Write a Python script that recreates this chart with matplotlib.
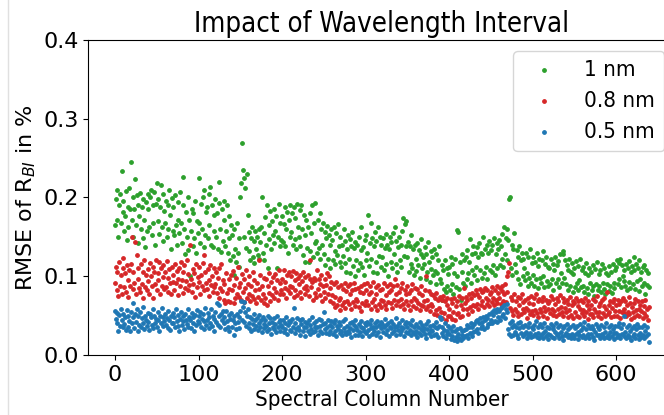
import numpy as np
import matplotlib.pyplot as plt
from matplotlib.lines import Line2D

# Step 1: RMSE values (in thousandths of a percent) per spectral column
rmse_1nm = [
    165, 198, 172, 210, 150, 190, 205, 168, 234, 182, 195, 158, 176, 208, 146, 188, 163, 212, 185, 245,
    172, 200, 150, 186, 223, 165, 203, 142, 190, 176, 206, 160, 188, 148, 198, 172, 137, 194, 158, 204,
    185, 163, 200, 210, 152, 190, 168, 207, 140, 192, 218, 170, 198, 154, 188, 216, 162, 205, 145, 183,
    168, 196, 150, 190, 160, 210, 178, 135, 199, 158, 188, 152, 203, 165, 140, 194, 172, 155, 207, 168,
    142, 190, 226, 160, 128, 182, 150, 200, 133, 172, 100, 158, 186, 138, 180, 148, 196, 130, 170, 155,
    225, 168, 142, 192, 160, 200, 137, 210, 152, 182, 188, 148, 204, 165, 213, 140, 190, 137, 178, 158,
    198, 150, 180, 135, 193, 220, 160, 131, 186, 145, 172, 196, 138, 158, 190, 130, 176, 148, 120, 165,
    152, 126, 102, 160, 135, 118, 168, 130, 112, 148, 200, 218, 269, 235, 225, 150, 212, 136, 230, 178,
    132, 156, 120, 148, 162, 125, 145, 117, 158, 134, 150, 127, 160, 122, 143, 163, 200, 130, 155, 120,
    175, 140, 190, 110, 165, 147, 183, 135, 170, 152, 142, 186, 158, 176, 110, 150, 192, 138, 168, 146,
    176, 143, 166, 188, 139, 160, 181, 130, 172, 150, 190, 156, 180, 140, 188, 147, 174, 134, 192, 162,
    150, 184, 138, 190, 160, 127, 178, 118, 152, 172, 136, 163, 118, 180, 132, 155, 190, 124, 167, 142,
    193, 145, 130, 172, 136, 180, 122, 160, 140, 167, 128, 156, 114, 148, 164, 122, 152, 110, 140, 160,
    146, 120, 162, 132, 115, 155, 127, 166, 138, 118, 150, 112, 140, 126, 160, 117, 145, 105, 135, 153,
    122, 147, 104, 138, 156, 113, 136, 100, 144, 120, 140, 108, 150, 117, 133, 162, 112, 137, 102, 146,
    120, 152, 130, 178, 113, 142, 168, 122, 148, 106, 138, 156, 118, 145, 104, 163, 126, 150, 112, 140,
    124, 148, 108, 136, 154, 115, 140, 100, 134, 150, 118, 143, 110, 155, 128, 162, 116, 145, 106, 137,
    150, 120, 140, 112, 158, 174, 126, 166, 138, 170, 124, 144, 105, 138, 116, 152, 110, 134, 102, 140,
    122, 107, 142, 114, 133, 98, 128, 147, 110, 124, 115, 137, 97, 128, 106, 143, 118, 93, 132, 109,
    124, 102, 134, 107, 90, 128, 104, 120, 138, 97, 92, 114, 70, 108, 84, 120, 80, 110, 88, 103,
    112, 82, 124, 90, 116, 78, 104, 122, 86, 159, 100, 156, 84, 118, 70, 106, 128, 92, 120, 88,
    124, 96, 133, 104, 118, 147, 92, 128, 108, 138, 102, 130, 112, 137, 95, 124, 142, 108, 130, 98,
    128, 150, 104, 135, 112, 140, 97, 130, 145, 108, 133, 106, 140, 114, 148, 102, 128, 142, 110, 135,
    146, 114, 138, 122, 154, 112, 162, 128, 148, 160, 120, 146, 198, 200, 110, 140, 102, 134, 155, 116,
    106, 133, 97, 124, 138, 90, 120, 130, 100, 122, 110, 95, 130, 104, 88, 125, 98, 134, 92, 117,
    102, 125, 88, 118, 96, 130, 85, 113, 122, 98, 92, 120, 100, 132, 86, 115, 124, 94, 112, 88,
    110, 90, 122, 97, 116, 82, 108, 125, 92, 114, 96, 119, 86, 128, 104, 92, 132, 128, 98, 120,
    90, 114, 82, 108, 122, 88, 106, 117, 80, 103, 110, 86, 119, 92, 82, 113, 95, 122, 86, 108,
    88, 112, 80, 104, 117, 85, 102, 78, 110, 92, 106, 83, 114, 88, 75, 109, 90, 118, 82, 103,
    87, 108, 80, 116, 92, 84, 111, 78, 104, 90, 102, 81, 113, 88, 106, 79, 116, 92, 85, 108,
    112, 120, 90, 117, 96, 122, 86, 114, 100, 94, 108, 88, 116, 82, 111, 93, 119, 85, 105, 113,
    90, 125, 108, 84, 116, 94, 110, 81, 120, 96, 106, 87, 112, 91, 114, 78, 108, 89, 104, 86,
]

rmse_08nm = [
    92, 112, 82, 106, 75, 118, 87, 102, 78, 110, 123, 86, 104, 80, 114, 95, 74, 108, 88, 116,
    150, 84, 105, 91, 143, 78, 127, 96, 111, 85, 80, 115, 90, 106, 72, 120, 86, 101, 82, 109,
    94, 77, 117, 100, 87, 112, 73, 106, 90, 120, 83, 104, 95, 118, 78, 110, 88, 99, 114, 84,
    105, 86, 119, 80, 98, 109, 91, 77, 112, 93, 101, 82, 116, 92, 107, 76, 97, 111, 87, 118,
    95, 79, 106, 114, 85, 94, 120, 83, 103, 89, 140, 97, 80, 109, 90, 104, 74, 115, 86, 99,
    93, 112, 78, 102, 88, 117, 127, 82, 106, 91, 84, 109, 95, 75, 114, 89, 100, 80, 111, 86,
    90, 105, 79, 98, 73, 110, 85, 116, 81, 95, 70, 90, 66, 104, 79, 68, 96, 84, 67, 101,
    82, 107, 66, 89, 72, 98, 78, 112, 86, 74, 92, 70, 103, 80, 67, 97, 85, 108, 73, 90,
    78, 100, 68, 88, 75, 105, 71, 95, 82, 66, 91, 74, 120, 84, 101, 70, 88, 78, 98, 66,
    73, 96, 64, 87, 79, 104, 68, 93, 76, 99, 85, 72, 103, 80, 95, 70, 108, 77, 91, 83,
    97, 78, 108, 85, 93, 72, 102, 82, 105, 88, 79, 100, 86, 107, 74, 95, 83, 104, 76, 98,
    90, 80, 101, 73, 94, 106, 85, 77, 99, 88, 82, 102, 75, 96, 120, 86, 93, 70, 98, 79,
    95, 74, 108, 84, 97, 76, 90, 102, 69, 87, 80, 96, 72, 89, 104, 77, 100, 85, 68, 93,
    76, 66, 90, 61, 74, 93, 64, 86, 70, 57, 73, 89, 63, 84, 67, 92, 60, 81, 69, 87,
    65, 78, 90, 58, 82, 67, 91, 62, 84, 71, 68, 85, 61, 80, 56, 88, 66, 79, 90, 63,
    83, 69, 91, 63, 77, 87, 59, 80, 67, 93, 71, 62, 86, 78, 57, 89, 65, 82, 70, 61,
    84, 68, 92, 64, 76, 58, 88, 67, 80, 90, 66, 82, 60, 87, 70, 96, 63, 78, 89, 68,
    80, 62, 85, 71, 91, 65, 58, 83, 68, 77, 87, 64, 79, 57, 82, 69, 90, 62, 73, 85,
    70, 60, 84, 66, 79, 57, 88, 64, 76, 62, 68, 83, 59, 100, 70, 62, 81, 56, 77, 65,
    62, 76, 52, 72, 57, 79, 51, 70, 60, 74, 55, 70, 47, 75, 53, 68, 45, 64, 72, 50,
    58, 50, 71, 46, 66, 54, 73, 45, 62, 52, 68, 53, 75, 48, 64, 72, 50, 59, 85, 66,
    74, 58, 70, 52, 77, 61, 73, 56, 79, 64, 76, 62, 82, 65, 78, 59, 74, 84, 64, 80,
    68, 81, 61, 85, 72, 65, 82, 70, 62, 78, 80, 67, 86, 73, 63, 83, 70, 88, 66, 79,
    72, 85, 65, 81, 88, 69, 78, 90, 67, 100, 80, 105, 117, 60, 74, 56, 70, 51, 77, 59,
    69, 54, 74, 50, 64, 72, 52, 77, 58, 67, 54, 70, 60, 47, 73, 57, 66, 52, 75, 56,
    65, 51, 72, 57, 77, 53, 68, 48, 71, 59, 55, 69, 50, 74, 61, 56, 70, 47, 66, 58,
    68, 53, 75, 59, 51, 71, 56, 65, 49, 73, 58, 69, 52, 76, 61, 54, 72, 50, 67, 60,
    54, 70, 48, 65, 57, 74, 51, 63, 69, 47, 66, 55, 72, 50, 62, 68, 48, 58, 70, 53,
    57, 67, 49, 73, 54, 64, 46, 69, 59, 52, 63, 52, 71, 48, 58, 68, 54, 75, 50, 62,
    55, 66, 47, 70, 53, 62, 72, 49, 58, 80, 52, 64, 55, 69, 48, 60, 67, 50, 71, 56,
    63, 50, 70, 56, 65, 47, 68, 54, 73, 53, 58, 69, 49, 64, 55, 74, 52, 66, 46, 61,
    54, 66, 48, 71, 57, 51, 69, 59, 50, 64, 56, 68, 47, 62, 53, 70, 49, 58, 45, 61,
]

rmse_05nm = [
    56, 46, 53, 40, 30, 51, 37, 59, 44, 35, 52, 39, 48, 32, 57, 36, 50, 43, 30, 54,
    40, 48, 66, 34, 52, 42, 58, 31, 49, 38, 55, 35, 47, 41, 61, 33, 50, 44, 37, 53,
    42, 32, 52, 48, 38, 58, 34, 49, 40, 46, 36, 54, 44, 30, 50, 41, 60, 37, 48, 43,
    52, 38, 47, 34, 56, 44, 32, 49, 40, 53, 41, 48, 35, 58, 43, 37, 51, 31, 46, 55,
    38, 50, 43, 33, 52, 45, 39, 59, 35, 48, 44, 34, 53, 41, 48, 30, 51, 38, 57, 43,
    49, 40, 55, 35, 46, 52, 33, 43, 60, 38, 45, 53, 34, 48, 41, 58, 37, 50, 31, 46,
    54, 42, 66, 38, 49, 64, 35, 52, 44, 56, 40, 48, 33, 56, 43, 36, 51, 30, 46, 53,
    36, 45, 26, 49, 40, 33, 52, 42, 34, 48, 56, 68, 45, 61, 67, 42, 54, 37, 50, 59,
    41, 34, 48, 31, 46, 39, 52, 33, 44, 37, 47, 32, 41, 51, 35, 44, 29, 48, 39, 34,
    45, 37, 31, 50, 40, 33, 47, 27, 42, 36, 33, 47, 39, 29, 49, 35, 42, 31, 45, 38,
    36, 45, 29, 41, 33, 48, 27, 38, 43, 32, 42, 30, 46, 35, 60, 28, 40, 33, 47, 36,
    32, 44, 26, 39, 46, 30, 36, 42, 24, 35, 41, 31, 45, 27, 38, 33, 48, 29, 40, 35,
    30, 43, 35, 25, 46, 37, 31, 44, 28, 39, 55, 33, 41, 28, 36, 45, 27, 38, 31, 43,
    35, 27, 40, 30, 44, 24, 37, 33, 42, 28, 38, 31, 25, 43, 34, 29, 46, 27, 37, 31,
    28, 40, 34, 23, 42, 32, 38, 26, 44, 35, 32, 25, 39, 29, 36, 43, 24, 34, 30, 41,
    38, 28, 42, 32, 24, 39, 34, 44, 27, 36, 31, 40, 26, 36, 43, 29, 38, 23, 34, 42,
    39, 29, 35, 46, 27, 38, 32, 41, 24, 36, 34, 43, 28, 39, 31, 36, 47, 26, 37, 32,
    40, 27, 36, 30, 44, 34, 24, 39, 29, 42, 36, 28, 40, 32, 25, 38, 45, 29, 35, 27,
    31, 39, 23, 36, 28, 42, 33, 25, 38, 30, 34, 27, 39, 22, 33, 43, 28, 37, 24, 32,
    30, 38, 25, 35, 42, 27, 34, 23, 37, 48, 46, 28, 36, 24, 32, 40, 22, 31, 27, 37,
    27, 34, 20, 31, 24, 37, 19, 30, 23, 33, 18, 27, 22, 34, 19, 31, 25, 21, 32, 24,
    33, 25, 38, 22, 35, 28, 40, 24, 36, 29, 39, 30, 43, 33, 45, 28, 41, 47, 34, 42,
    37, 48, 33, 45, 50, 35, 47, 39, 52, 41, 44, 54, 40, 51, 57, 43, 55, 42, 59, 48,
    56, 45, 60, 49, 61, 52, 63, 47, 58, 65, 54, 33, 27, 40, 24, 35, 43, 26, 38, 29,
    36, 25, 40, 22, 34, 42, 28, 37, 24, 35, 27, 38, 29, 21, 36, 25, 41, 28, 23, 35,
    33, 24, 38, 27, 43, 23, 35, 28, 21, 39, 26, 36, 28, 22, 40, 30, 24, 35, 27, 20,
    34, 25, 39, 23, 33, 37, 21, 29, 41, 25, 35, 27, 22, 38, 29, 24, 34, 19, 37, 26,
    28, 39, 23, 33, 25, 36, 21, 27, 38, 24, 22, 34, 27, 37, 20, 29, 25, 39, 32, 23,
    35, 26, 42, 22, 33, 24, 38, 27, 21, 34, 27, 37, 23, 33, 19, 29, 39, 25, 35, 26,
    33, 22, 38, 27, 24, 36, 21, 29, 41, 23, 26, 35, 21, 29, 38, 24, 33, 20, 28, 37,
    28, 23, 37, 26, 40, 22, 34, 27, 39, 24, 50, 29, 21, 36, 25, 38, 23, 30, 19, 34,
    24, 37, 27, 22, 33, 39, 26, 20, 36, 28, 23, 35, 26, 38, 21, 31, 24, 36, 27, 17,
]

series_labels = ['1 nm', '0.8 nm', '0.5 nm']
series_colors = ['tab:green', 'tab:red', 'tab:blue']

columns = np.arange(len(rmse_1nm))

# Step 2: Plot
plt.rcParams['font.size'] = 16
fig = plt.figure(figsize=(6.64, 4.15), dpi=100)
ax = fig.add_axes([0.133, 0.1446, 0.884, 0.759])

for vals, lab, col in zip([rmse_1nm, rmse_08nm, rmse_05nm], series_labels, series_colors):
    ax.scatter(columns, np.array(vals) / 1000, s=6, color=col, label=lab)

ax.set_ylim(0, 0.4)
ax.set_yticks([0.0, 0.1, 0.2, 0.3, 0.4])
ax.set_title('Impact of Wavelength Interval', fontsize=19.8, fontstretch='condensed')
ax.set_xlabel('Spectral Column Number', fontstretch='condensed')
ax.set_ylabel('RMSE of R$_{BI}$ in %')
ax.legend(loc='upper right', prop={'size': 16, 'stretch': 'condensed'})

# faint notebook border on the left
fig.add_artist(Line2D([8 / 664, 8 / 664], [0, 1], color='#e0e0e0', lw=1))

plt.savefig('out.png', dpi=100)
